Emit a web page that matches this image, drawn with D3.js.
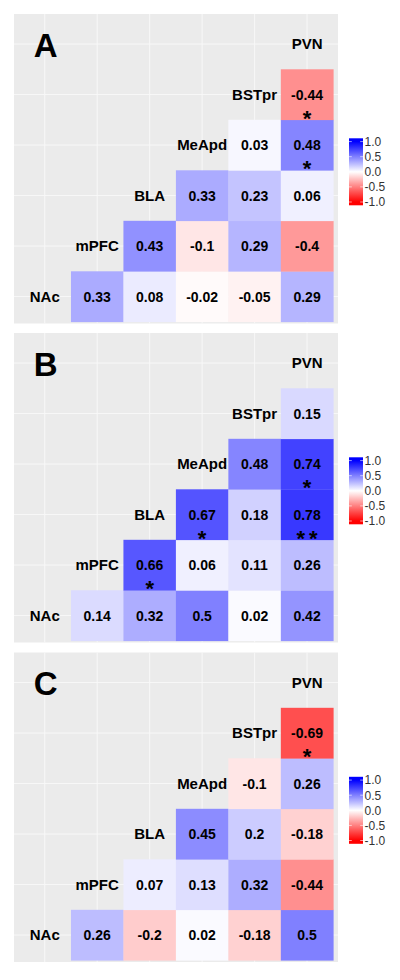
<!DOCTYPE html>
<html>
<head>
<meta charset="utf-8">
<script src="https://cdn.jsdelivr.net/npm/d3@7"></script>
<style>
  html, body { margin: 0; padding: 0; background: #fff; }
  svg { display: block; font-family: "Liberation Sans", Arial, Helvetica, sans-serif; }
</style>
</head>
<body>
<svg id="chart" width="400" height="980"></svg>
<script>
// ---- data ----
const regions = ["NAc", "mPFC", "BLA", "MeApd", "BSTpr", "PVN"];
const panelLetters = ["A", "B", "C"];
// upper-triangle correlations, row by row:
// NAc-(mPFC,BLA,MeApd,BSTpr,PVN), mPFC-(BLA,MeApd,BSTpr,PVN), BLA-(MeApd,BSTpr,PVN), MeApd-(BSTpr,PVN), BSTpr-PVN
const valuesA = [0.33, 0.08, -0.02, -0.05, 0.29, 0.43, -0.1, 0.29, -0.4, 0.33, 0.23, 0.06, 0.03, 0.48, -0.44];
const starsA  = ["", "", "", "", "", "", "", "", "", "", "", "", "", "*", "*"];
const valuesB = [0.14, 0.32, 0.5, 0.02, 0.42, 0.66, 0.06, 0.11, 0.26, 0.67, 0.18, 0.78, 0.48, 0.74, 0.15];
const starsB  = ["", "", "", "", "", "*", "", "", "", "*", "", "**", "", "*", ""];
const valuesC = [0.26, -0.2, 0.02, -0.18, 0.5, 0.07, 0.13, 0.32, -0.44, 0.45, 0.2, -0.18, -0.1, 0.26, -0.69];
const starsC  = ["", "", "", "", "", "", "", "", "", "", "", "", "", "", "*"];
const legendTicks = [1.0, 0.5, 0.0, -0.5, -1.0];

const panelValues = [valuesA, valuesB, valuesC];
const panelStars = [starsA, starsB, starsC];

// ---- layout ----
const svg = d3.select("#chart");
const panelTops = [14, 333, 652.5];
const panelH = 309.5;
const panelX0 = 14, panelX1 = 338;

const color = d3.scaleLinear()
  .domain([-1, 0, 1])
  .range(["#ff0000", "#ffffff", "#0000ff"])
  .interpolate(d3.interpolateRgb)
  .clamp(true);

// build pair list once
const pairs = [];
for (let i = 0; i < regions.length; i++)
  for (let j = i + 1; j < regions.length; j++)
    pairs.push([regions[i], regions[j]]);

panelTops.forEach((T, p) => {
  const g = svg.append("g");
  const x = d3.scaleBand().domain(regions).range([18.5, 333.3]);
  const y = d3.scaleBand().domain(regions.slice().reverse()).range([T + 4.8, T + 4.8 + 303]);

  // panel background
  g.append("rect")
    .attr("x", panelX0).attr("y", T)
    .attr("width", panelX1 - panelX0).attr("height", panelH)
    .attr("fill", "#ebebeb");

  // major grid lines at category centres
  g.selectAll(".vg").data(regions).join("line")
    .attr("x1", d => x(d) + x.bandwidth() / 2).attr("x2", d => x(d) + x.bandwidth() / 2)
    .attr("y1", T).attr("y2", T + panelH)
    .attr("stroke", "#f8f8f8").attr("stroke-width", 1);
  g.selectAll(".hg").data(regions).join("line")
    .attr("y1", d => y(d) + y.bandwidth() / 2).attr("y2", d => y(d) + y.bandwidth() / 2)
    .attr("x1", panelX0).attr("x2", panelX1)
    .attr("stroke", "#f8f8f8").attr("stroke-width", 1);

  const cells = pairs.map((pr, k) => ({
    row: pr[0], col: pr[1], v: panelValues[p][k], s: panelStars[p][k]
  }));

  g.selectAll(".tile").data(cells).join("rect")
    .attr("x", d => x(d.col)).attr("y", d => y(d.row))
    .attr("width", x.bandwidth() + 0.3).attr("height", y.bandwidth() + 0.3)
    .attr("fill", d => color(d.v));

  g.selectAll(".val").data(cells).join("text")
    .attr("x", d => x(d.col) + x.bandwidth() / 2)
    .attr("y", d => y(d.row) + y.bandwidth() / 2)
    .attr("dy", "0.36em")
    .attr("text-anchor", "middle")
    .attr("font-size", 14).attr("font-weight", "bold")
    .attr("fill", "#000")
    .text(d => String(d.v));

  // significance stars
  cells.filter(d => d.s).forEach(d => {
    const chars = d.s.split("");
    const cx = x(d.col) + x.bandwidth() / 2;
    const cy = y(d.row) + y.bandwidth() / 2;
    chars.forEach((c, k) => {
      g.append("text")
        .attr("x", cx + (k - (chars.length - 1) / 2) * 12.5)
        .attr("y", cy + 31)
        .attr("text-anchor", "middle")
        .attr("font-size", 22).attr("font-weight", "bold")
        .attr("fill", "#000")
        .text(c);
    });
  });

  // diagonal region labels
  g.selectAll(".lab").data(regions).join("text")
    .attr("x", d => x(d) + x.bandwidth() / 2)
    .attr("y", d => y(d) + y.bandwidth() / 2)
    .attr("dy", "0.36em")
    .attr("text-anchor", "middle")
    .attr("font-size", 15).attr("font-weight", "bold")
    .attr("fill", "#000")
    .text(d => d);

  // panel letter at (col NAc, row PVN)
  g.append("text")
    .attr("x", x(regions[0]) + x.bandwidth() / 2 + 1)
    .attr("y", y(regions[regions.length - 1]) + y.bandwidth() / 2 + 1)
    .attr("dy", "0.36em")
    .attr("text-anchor", "middle")
    .attr("font-size", 33).attr("font-weight", "bold")
    .attr("fill", "#000")
    .text(panelLetters[p]);

  // legend colour bar
  const barX = 349, barW = 14, barTop = T + 124.3, barH = 67;
  const ly = d3.scaleLinear().domain([1, -1]).range([barTop + 3.3, barTop + barH - 3.3]);
  const gid = "grad" + p;
  const grad = svg.append("defs").append("linearGradient")
    .attr("id", gid).attr("x1", 0).attr("x2", 0).attr("y1", 0).attr("y2", 1);
  d3.range(0, 41).forEach(k => {
    const yy = barTop + barH * k / 40;
    grad.append("stop").attr("offset", k / 40).attr("stop-color", color(ly.invert(yy)));
  });
  g.append("rect")
    .attr("x", barX).attr("y", barTop).attr("width", barW).attr("height", barH)
    .attr("fill", `url(#${gid})`);
  g.selectAll(".tk").data(legendTicks).join("line")
    .attr("x1", barX).attr("x2", barX + 2.8)
    .attr("y1", d => ly(d)).attr("y2", d => ly(d))
    .attr("stroke", "#fff").attr("stroke-width", 0.6);
  g.selectAll(".tk2").data(legendTicks).join("line")
    .attr("x1", barX + barW - 2.8).attr("x2", barX + barW)
    .attr("y1", d => ly(d)).attr("y2", d => ly(d))
    .attr("stroke", "#fff").attr("stroke-width", 0.6);
  g.selectAll(".tl").data(legendTicks).join("text")
    .attr("x", barX + barW + 1.5)
    .attr("y", d => ly(d))
    .attr("dy", "0.36em")
    .attr("font-size", 12)
    .attr("fill", "#333")
    .text(d => d.toFixed(1));
});
</script>
</body>
</html>
